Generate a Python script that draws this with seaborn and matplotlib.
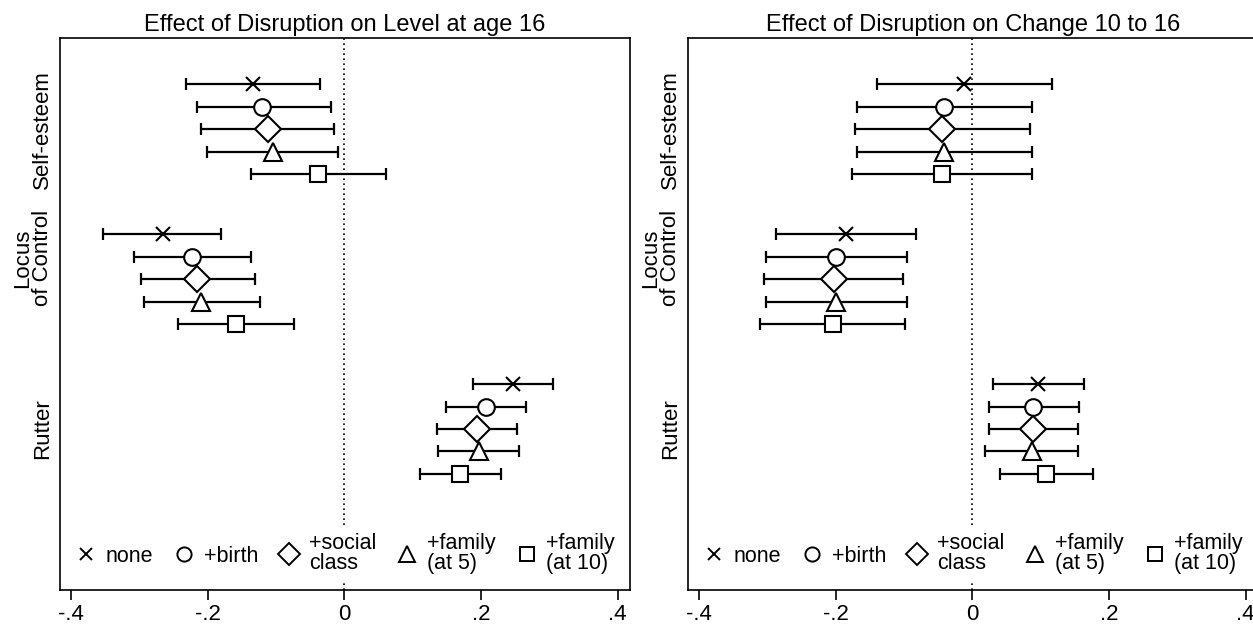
import matplotlib
matplotlib.use("Agg")
import matplotlib.pyplot as plt
from matplotlib.lines import Line2D
import matplotlib.transforms as mtransforms
import seaborn as sns
from pandas import DataFrame

# outcomes and model specifications
outcomes = ["Self-esteem", "Locus\nof Control", "Rutter"]
label_rows = [2, 7.75, 15.33]
models = ["none", "+birth", "+social\nclass", "+family\n(at 5)", "+family\n(at 10)"]
markers = ["x", "o", "D", "^", "s"]
marker_sizes = [10, 12, 13, 13, 12]

# panel 1: level at age 16 (rows = outcomes, cols = models)
level_est = [[-0.134, -0.120, -0.111, -0.105, -0.038],
             [-0.266, -0.223, -0.215, -0.209, -0.158],
             [0.247, 0.207, 0.194, 0.197, 0.169]]
level_lo = [[-0.231, -0.216, -0.209, -0.201, -0.136],
            [-0.353, -0.308, -0.298, -0.293, -0.244],
            [0.188, 0.149, 0.136, 0.137, 0.111]]
level_hi = [[-0.036, -0.020, -0.015, -0.009, 0.061],
            [-0.181, -0.137, -0.130, -0.124, -0.073],
            [0.305, 0.266, 0.253, 0.255, 0.229]]

# panel 2: change 10 to 16
change_est = [[-0.012, -0.041, -0.044, -0.041, -0.044],
              [-0.185, -0.200, -0.203, -0.199, -0.204],
              [0.096, 0.089, 0.089, 0.087, 0.108]]
change_lo = [[-0.139, -0.169, -0.172, -0.169, -0.176],
             [-0.287, -0.302, -0.305, -0.302, -0.310],
             [0.030, 0.024, 0.024, 0.019, 0.040]]
change_hi = [[0.117, 0.087, 0.084, 0.087, 0.087],
             [-0.083, -0.096, -0.101, -0.095, -0.098],
             [0.163, 0.156, 0.155, 0.154, 0.176]]

titles = ["Effect of Disruption on Level at age 16",
          "Effect of Disruption on Change 10 to 16"]
xticks = [-0.4, -0.2, 0, 0.2, 0.4]
xticklabels = ["-.4", "-.2", "0", ".2", ".4"]

sns.set_style("white")
plt.rcParams["font.family"] = ["Liberation Sans", "DejaVu Sans"]
plt.rcParams["text.color"] = "black"
plt.rcParams["xtick.color"] = "black"
plt.rcParams["ytick.color"] = "black"
plt.rcParams["axes.labelcolor"] = "black"

GROUP_GAP = 6.67


def make_frame(est, lo, hi):
    rows = []
    for g, outcome in enumerate(outcomes):
        for m, model in enumerate(models):
            rows.append({"outcome": outcome, "model": model,
                         "pos": g * GROUP_GAP + m,
                         "est": est[g][m], "lo": lo[g][m], "hi": hi[g][m]})
    return DataFrame(rows)


fig = plt.figure(figsize=(12.53, 6.26), dpi=100)
axes = [fig.add_axes([60 / 1253, 36 / 626, 570 / 1253, 552 / 626]),
        fig.add_axes([688 / 1253, 36 / 626, 570 / 1253, 552 / 626])]

for ax, title, est, lo, hi in zip(axes, titles,
                                  [level_est, change_est],
                                  [level_lo, change_lo],
                                  [level_hi, change_hi]):
    df = make_frame(est, lo, hi)
    ax.axvline(0, color="black", linestyle=(0, (1, 2)), linewidth=1.2, zorder=1)
    ax.errorbar(df["est"], df["pos"],
                xerr=[df["est"] - df["lo"], df["hi"] - df["est"]],
                fmt="none", ecolor="black", elinewidth=1.6,
                capsize=4.5, capthick=1.6, zorder=2)
    for m, model in enumerate(models):
        sub = df[df["model"] == model]
        ax.plot(sub["est"], sub["pos"], linestyle="none", marker=markers[m],
                markersize=marker_sizes[m], markerfacecolor="white",
                markeredgecolor="black", markeredgewidth=1.5, zorder=3)
    ax.set_xlim(-0.416, 0.418)
    ax.set_ylim(22.5, -2.05)
    ax.set_xticks(xticks)
    ax.set_xticklabels(xticklabels, fontsize=16)
    ax.set_yticks([])
    # group labels, rotated, right edge next to the frame
    trans = mtransforms.blended_transform_factory(ax.transAxes, ax.transData)
    for outcome, row in zip(outcomes, label_rows):
        ax.text(-0.012, row, outcome, transform=trans, rotation=90,
                ha="right", va="center", multialignment="center",
                fontsize=16, linespacing=0.95)
    ax.tick_params(axis="x", length=7, width=1.2, direction="out",
                   bottom=True, pad=3)
    for s in ax.spines.values():
        s.set_color("black")
        s.set_linewidth(1.2)
        s.set_zorder(6)
    ax.set_title(title, fontsize=17, pad=5)

    handles = [Line2D([], [], linestyle="none", marker=markers[m],
                      markersize=marker_sizes[m] * 0.85, markerfacecolor="white",
                      markeredgecolor="black", markeredgewidth=1.4)
               for m in range(len(models))]
    leg = ax.legend(handles, models, loc="lower center", ncol=5,
                    bbox_to_anchor=(0.5, 0.003), frameon=True, fontsize=15.5,
                    handlelength=1.0, handletextpad=0.4, columnspacing=0.95,
                    borderaxespad=0.4, labelspacing=0.2, borderpad=0.25)
    leg.get_frame().set_edgecolor("white")
    leg.get_frame().set_facecolor("white")
    leg.get_frame().set_alpha(1)
    for t in leg.get_texts():
        t.set_linespacing(0.95)
    leg.set_zorder(5)

fig.savefig("out.png", dpi=100)
